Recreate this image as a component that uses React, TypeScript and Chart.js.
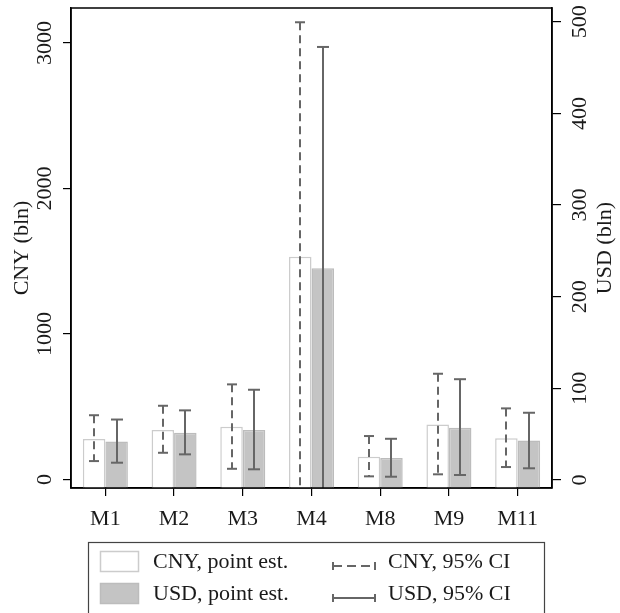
import React, { useEffect, useRef } from "react";
import { Chart, registerables } from "chart.js";

Chart.register(...registerables);

const categories = ["M1", "M2", "M3", "M4", "M8", "M9", "M11"];
const cnyEst = [278, 340, 363, 1531, 157, 378, 283];
const cnyLo = [127, 184, 74, -90, 22, 36, 86];
const cnyHi = [442, 507, 654, 3142, 299, 727, 489];
const usdEst = [42, 51.6, 54.6, 231, 24, 57, 43];
const usdLo = [18.9, 28, 11.7, -14, 3.6, 5.5, 12.8];
const usdHi = [66, 76, 98.5, 472.5, 45, 110, 73.4];

const cnyTicks = [0, 1000, 2000, 3000];
const usdTicks = [0, 100, 200, 300, 400, 500];

const legendLabels = ["CNY, point est.", "USD, point est.", "CNY, 95% CI", "USD, 95% CI"];
const axisTitles = ["CNY (bln)", "USD (bln)"];

const Y_MIN = -58;
const Y_MAX = 3240;
const Y1_MIN = -8.7;
const Y1_MAX = 515;

const FONT = "'Liberation Serif', 'Times New Roman', serif";
const TEXT = "#1a1a1a";
const CI_COLOR = "#666666";

const errorBarPlugin = {
  id: "errorBars",
  afterDatasetsDraw(chart: any) {
    const { ctx, chartArea } = chart;
    ctx.save();
    ctx.beginPath();
    ctx.rect(chartArea.left, chartArea.top, chartArea.right - chartArea.left, chartArea.bottom - chartArea.top);
    ctx.clip();
    const sets = [
      { meta: chart.getDatasetMeta(0), scale: chart.scales.y, lo: cnyLo, hi: cnyHi, dash: [8, 5], cap: 5 },
      { meta: chart.getDatasetMeta(1), scale: chart.scales.y1, lo: usdLo, hi: usdHi, dash: [], cap: 6 },
    ];
    ctx.strokeStyle = CI_COLOR;
    ctx.lineWidth = 2;
    sets.forEach((s) => {
      s.meta.data.forEach((bar: any, i: number) => {
        const x = Math.round(bar.x);
        const yLo = s.scale.getPixelForValue(s.lo[i]);
        const yHi = s.scale.getPixelForValue(s.hi[i]);
        ctx.setLineDash(s.dash);
        ctx.beginPath();
        ctx.moveTo(x, yHi);
        ctx.lineTo(x, yLo);
        ctx.stroke();
        ctx.setLineDash([]);
        [yLo, yHi].forEach((yy) => {
          ctx.beginPath();
          ctx.moveTo(x - s.cap, yy);
          ctx.lineTo(x + s.cap, yy);
          ctx.stroke();
        });
      });
    });
    ctx.restore();
  },
};

const decorPlugin = {
  id: "decor",
  afterDraw(chart: any) {
    const { ctx, chartArea } = chart;
    ctx.save();
    ctx.strokeStyle = "#000";
    ctx.lineWidth = 1.5;
    ctx.strokeRect(chartArea.left, chartArea.top, chartArea.right - chartArea.left, chartArea.bottom - chartArea.top);

    const rot = (text: string, x: number, y: number) => {
      ctx.save();
      ctx.translate(x, y);
      ctx.rotate(-Math.PI / 2);
      ctx.textAlign = "center";
      ctx.textBaseline = "middle";
      ctx.fillText(text, 0, 0);
      ctx.restore();
    };
    ctx.fillStyle = TEXT;
    ctx.font = `22px ${FONT}`;
    const ys = chart.scales.y;
    const y1s = chart.scales.y1;
    cnyTicks.forEach((v) => rot(String(v), 45, ys.getPixelForValue(v)));
    usdTicks.forEach((v) => rot(String(v), 580, y1s.getPixelForValue(v)));
    const midY = (chartArea.top + chartArea.bottom) / 2;
    rot(axisTitles[0], 22, midY);
    rot(axisTitles[1], 605, midY);

    // legend
    ctx.strokeStyle = "#444";
    ctx.lineWidth = 1.2;
    ctx.strokeRect(88.5, 542.5, 456, 90);
    ctx.lineWidth = 1.5;
    ctx.fillStyle = "#ffffff";
    ctx.strokeStyle = "#cccccc";
    ctx.fillRect(100, 551, 39, 21);
    ctx.strokeRect(100.5, 551.5, 38, 20);
    ctx.fillStyle = "#c4c4c4";
    ctx.strokeStyle = "#bcbcbc";
    ctx.fillRect(100, 583, 39, 21);
    ctx.strokeRect(100.5, 583.5, 38, 20);

    ctx.fillStyle = TEXT;
    ctx.textAlign = "left";
    ctx.textBaseline = "alphabetic";
    ctx.fillText(legendLabels[0], 153, 568);
    ctx.fillText(legendLabels[1], 153, 600);
    ctx.fillText(legendLabels[2], 388, 568);
    ctx.fillText(legendLabels[3], 388, 600);

    ctx.strokeStyle = CI_COLOR;
    ctx.lineWidth = 2;
    const sym = (y: number, dash: number[]) => {
      ctx.setLineDash(dash);
      ctx.beginPath();
      ctx.moveTo(333, y);
      ctx.lineTo(375, y);
      ctx.stroke();
      ctx.setLineDash([]);
      [333, 375].forEach((x) => {
        ctx.beginPath();
        ctx.moveTo(x, y - 4);
        ctx.lineTo(x, y + 4);
        ctx.stroke();
      });
    };
    sym(566, [9, 5]);
    sym(598, []);
    ctx.restore();
  },
};

export default function App() {
  const ref = useRef<HTMLCanvasElement | null>(null);
  useEffect(() => {
    if (!ref.current) return;
    const chart = new Chart(ref.current, {
      type: "bar",
      data: {
        labels: categories,
        datasets: [
          {
            label: "CNY",
            data: cnyEst,
            yAxisID: "y",
            base: Y_MIN,
            backgroundColor: "#ffffff",
            borderColor: "#cccccc",
            borderWidth: 1.5,
            categoryPercentage: 0.655,
            barPercentage: 1.0,
          } as any,
          {
            label: "USD",
            data: usdEst,
            yAxisID: "y1",
            base: Y1_MIN,
            backgroundColor: "#c4c4c4",
            borderColor: "#bcbcbc",
            borderWidth: 1.5,
            categoryPercentage: 0.655,
            barPercentage: 1.0,
          } as any,
        ],
      },
      options: {
        animation: false,
        responsive: true,
        maintainAspectRatio: false,
        layout: { padding: { top: 8, left: 0, right: 0, bottom: 0 } },
        plugins: { legend: { display: false }, tooltip: { enabled: false } },
        scales: {
          x: {
            offset: true,
            afterFit: (s: any) => {
              s.height = 125;
            },
            grid: { display: true, drawOnChartArea: false, drawTicks: true, tickLength: 8, offset: false, color: "#000", lineWidth: 1.2 },
            border: { display: true, color: "#000", width: 1.5 },
            ticks: { color: TEXT, font: { family: FONT, size: 22 }, padding: 10, maxRotation: 0, minRotation: 0 },
          },
          y: {
            position: "left",
            min: Y_MIN,
            max: Y_MAX,
            afterFit: (s: any) => {
              s.width = 71;
            },
            afterBuildTicks: (s: any) => {
              s.ticks = cnyTicks.map((v) => ({ value: v }));
            },
            grid: { display: true, drawOnChartArea: false, drawTicks: true, tickLength: 8, color: "#000", lineWidth: 1.2 },
            border: { display: true, color: "#000", width: 1.5 },
            ticks: { display: false },
          },
          y1: {
            position: "right",
            min: Y1_MIN,
            max: Y1_MAX,
            afterFit: (s: any) => {
              s.width = 68;
            },
            afterBuildTicks: (s: any) => {
              s.ticks = usdTicks.map((v) => ({ value: v }));
            },
            grid: { display: true, drawOnChartArea: false, drawTicks: true, tickLength: 9, color: "#000", lineWidth: 1.2 },
            border: { display: true, color: "#000", width: 1.5 },
            ticks: { display: false },
          },
        },
      } as any,
      plugins: [errorBarPlugin, decorPlugin],
    });
    return () => chart.destroy();
  }, []);
  return (
    <div style={{ position: "fixed", left: 0, top: 0, width: 620, height: 613, background: "#fff" }}>
      <canvas ref={ref} style={{ display: "block" }} />
    </div>
  );
}
